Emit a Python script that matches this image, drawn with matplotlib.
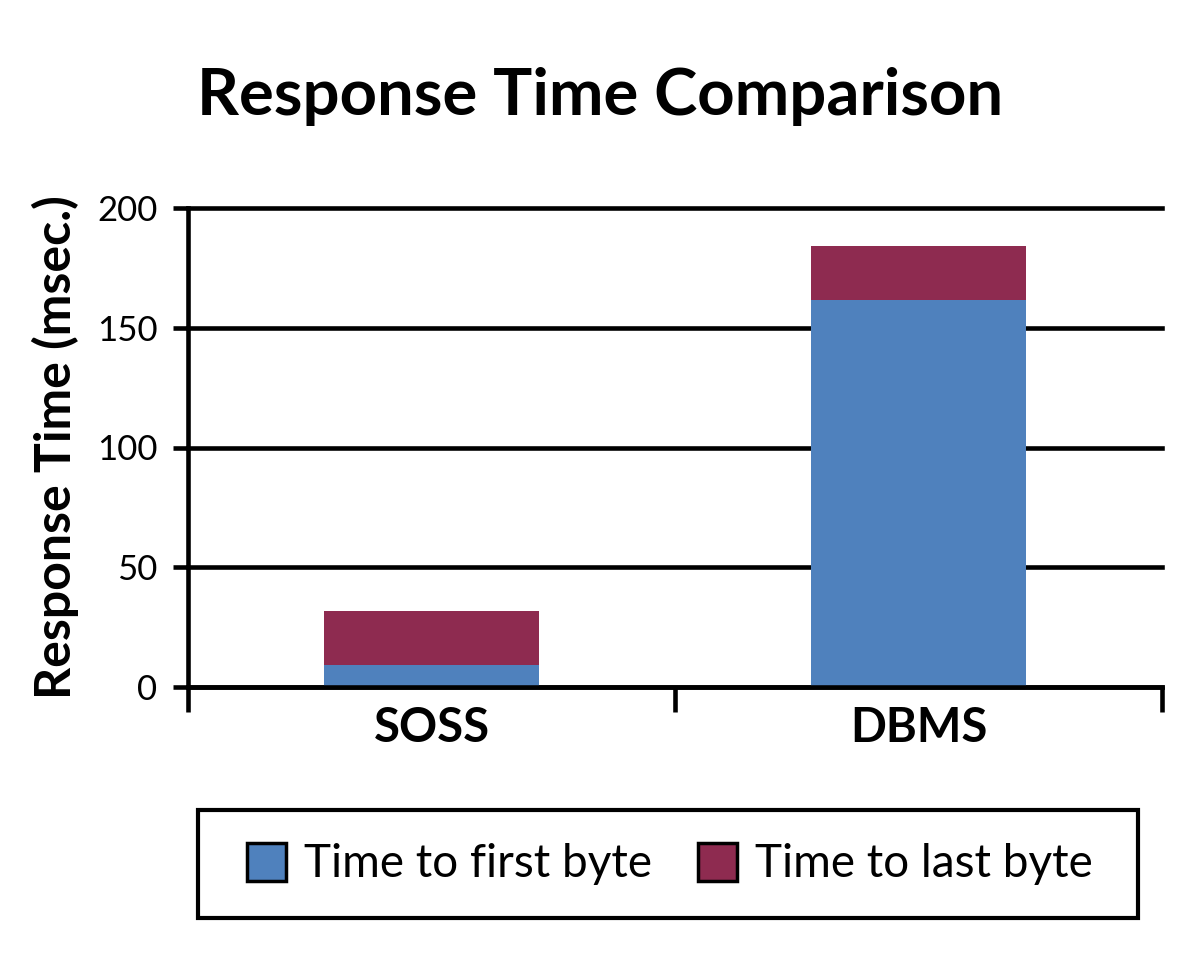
import numpy as np
import matplotlib
matplotlib.use("Agg")
import matplotlib.pyplot as plt
from matplotlib.patches import Rectangle, Patch

plt.rcParams['font.family'] = ['Lato', 'DejaVu Sans']

# data (msec.)
systems = ['SOSS', 'DBMS']
first_byte = [9, 161.5]
total_time = [31.7, 184]
last_byte = [t - f for t, f in zip(total_time, first_byte)]
series_names = ['Time to first byte', 'Time to last byte']

blue = '#4f81bd'
red = '#8e2b50'

fig = plt.figure(figsize=(12, 9.69), dpi=100)
ax = fig.add_axes([188/1200, 1-687/969, (1162-188)/1200, (687-208)/969])

x = np.arange(len(systems))
ax.bar(x, first_byte, width=0.44, color=blue, zorder=3)
ax.bar(x, last_byte, width=0.44, bottom=first_byte, color=red, zorder=3)

ax.set_xlim(-0.5, 1.5)
ax.set_ylim(0, 200)
ax.set_yticks([0, 50, 100, 150, 200])
ax.tick_params(axis='y', labelsize=25, length=11, width=3.3, pad=11)
ax.yaxis.grid(True, color='black', linewidth=3.3, zorder=0)
for gl in ax.get_ygridlines():
    gl.set_clip_on(False)

# category separators as bottom ticks, labels in between
ax.set_xticks([-0.5, 0.5, 1.5])
ax.set_xticklabels([])
ax.set_xticks(x, minor=True)
ax.set_xticklabels(systems, minor=True, fontsize=34, fontweight='bold')
ax.tick_params(axis='x', which='major', length=18, width=3.3)
ax.tick_params(axis='x', which='minor', length=0, pad=14)

for s in ['top', 'right']:
    ax.spines[s].set_visible(False)
ax.spines['left'].set_linewidth(3.3)
ax.spines['bottom'].set_linewidth(3.3)
ax.spines['bottom'].set_zorder(4)

ax.set_ylabel('Response Time (msec.)', fontsize=36, fontweight='bold', labelpad=13)

fig.text(0.5, 1-97/969, 'Response Time Comparison', ha='center', va='center',
         fontsize=47, fontweight='bold')

# legend box below the chart
fig.patches.append(Rectangle((198/1200, 1-918/969), 940/1200, 108/969,
                             transform=fig.transFigure, fill=False,
                             edgecolor='black', linewidth=3))
h = [Patch(facecolor=blue, edgecolor='black', linewidth=2.5),
     Patch(facecolor=red, edgecolor='black', linewidth=2.5)]
fig.legend(h, series_names, loc='center', bbox_to_anchor=(670/1200, 1-864/969), ncol=2,
           frameon=False, fontsize=33, handlelength=0.85, handleheight=0.9,
           handletextpad=0.4, columnspacing=1.0)

fig.savefig('out.png', dpi=100)
